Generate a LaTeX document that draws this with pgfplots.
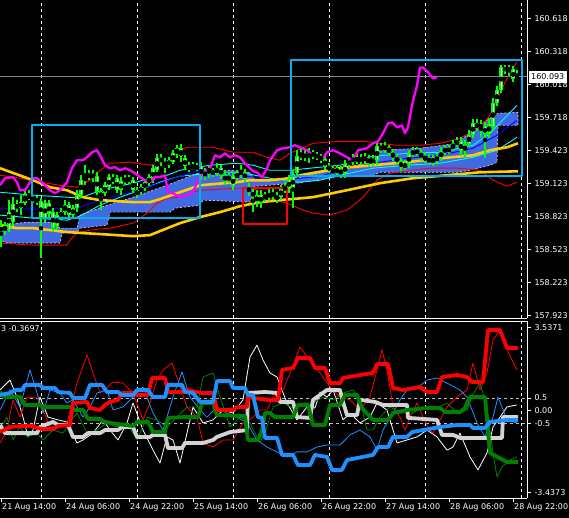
\documentclass[border=0pt]{standalone}
\usepackage{pgfplots}
\pgfplotsset{compat=1.18}
\usepackage{pgfplotstable}
\usepackage{fontspec}
\setmainfont{DejaVu Sans}
\definecolor{mtlime}{RGB}{0,255,0}
\definecolor{mtpale}{RGB}{200,255,200}
\definecolor{mtgold}{RGB}{255,204,0}
\definecolor{mtred}{RGB}{255,0,0}
\definecolor{mtcyan}{RGB}{0,255,255}
\definecolor{mtblue}{RGB}{0,0,255}
\definecolor{mtroyal}{RGB}{65,105,225}
\definecolor{mtmag}{RGB}{255,0,255}
\definecolor{mtsky}{RGB}{0,176,240}
\definecolor{mtslate}{RGB}{119,136,153}
\definecolor{mtdodger}{RGB}{30,144,255}
\definecolor{mtgreen}{RGB}{0,128,0}
\definecolor{mtlgray}{RGB}{211,211,211}
\definecolor{mtedge}{RGB}{225,190,225}
\definecolor{mtlevel}{RGB}{190,190,190}

\pgfplotstableread{
i o h l c
0 158.682 158.790 158.546 158.736
1 158.736 158.772 158.654 158.700
2 158.700 158.972 158.682 158.863
3 158.772 158.999 158.736 158.935
4 158.935 158.972 158.863 158.899
5 158.899 159.017 158.836 158.954
6 158.944 159.062 158.926 159.017
7 159.008 159.062 158.972 158.999
8 158.990 159.017 158.944 158.981
9 158.981 159.008 158.926 158.963
10 158.963 158.990 158.446 158.809
11 158.809 158.972 158.772 158.944
12 158.944 158.972 158.809 158.845
13 158.863 158.899 158.682 158.718
14 158.736 158.863 158.700 158.836
15 158.818 158.899 158.790 158.863
16 158.863 158.972 158.836 158.926
17 158.926 158.954 158.809 158.836
18 158.836 158.926 158.809 158.899
19 158.899 159.062 158.863 159.017
20 159.017 159.198 158.990 159.153
21 159.153 159.289 159.107 159.180
22 159.180 159.243 159.153 159.207
23 159.207 159.243 159.135 159.180
24 159.189 159.225 159.017 159.044
25 159.044 159.080 158.881 158.999
26 159.035 159.135 159.008 159.107
27 159.089 159.207 159.062 159.180
28 159.171 159.207 159.117 159.153
29 159.171 159.198 159.035 159.062
30 159.062 159.180 159.017 159.144
31 159.144 159.198 159.107 159.171
32 159.171 159.198 159.117 159.153
33 159.153 159.180 159.035 159.062
34 159.062 159.089 158.990 159.017
35 159.044 159.117 159.017 159.089
36 159.080 159.153 159.053 159.135
37 159.126 159.207 159.098 159.180
38 159.153 159.289 159.126 159.262
39 159.243 159.388 159.225 159.352
40 159.352 159.388 159.280 159.325
41 159.316 159.352 159.216 159.289
42 159.289 159.361 159.262 159.334
43 159.316 159.425 159.298 159.397
44 159.397 159.470 159.352 159.443
45 159.443 159.479 159.316 159.370
46 159.352 159.379 159.243 159.280
47 159.280 159.316 159.225 159.253
48 159.262 159.316 159.243 159.280
49 159.280 159.307 159.234 159.262
50 159.280 159.316 159.153 159.189
51 159.189 159.262 159.153 159.234
52 159.234 159.289 159.171 159.253
53 159.243 159.262 159.180 159.207
54 159.216 159.307 159.189 159.262
55 159.262 159.289 159.162 159.189
56 159.198 159.243 159.107 159.144
57 159.153 159.225 159.126 159.189
58 159.189 159.225 159.062 159.098
59 159.180 159.243 159.153 159.207
60 159.207 159.289 159.171 159.234
61 159.225 159.253 159.135 159.162
62 159.089 159.126 159.008 159.044
63 159.035 159.071 158.863 159.017
64 159.017 159.062 158.908 158.954
65 158.944 159.062 158.899 159.017
66 159.008 159.044 158.954 158.999
67 158.999 159.071 158.963 159.035
68 159.035 159.071 158.972 159.008
69 159.008 159.044 158.944 158.981
70 158.999 159.107 158.972 159.071
71 159.062 159.135 159.035 159.098
72 159.071 159.198 159.035 159.162
73 159.062 159.243 158.899 159.207
74 159.216 159.425 159.189 159.370
75 159.370 159.443 159.334 159.388
76 159.388 159.425 159.325 159.361
77 159.361 159.443 159.307 159.397
78 159.397 159.425 159.343 159.379
79 159.379 159.407 159.334 159.370
80 159.370 159.397 159.307 159.343
81 159.343 159.370 159.243 159.280
82 159.280 159.307 159.216 159.253
83 159.253 159.280 159.189 159.234
84 159.234 159.289 159.189 159.253
85 159.253 159.280 159.171 159.207
86 159.207 159.334 159.171 159.298
87 159.298 159.361 159.262 159.325
88 159.325 159.388 159.289 159.352
89 159.352 159.388 159.298 159.334
90 159.334 159.388 159.289 159.352
91 159.352 159.397 159.298 159.343
92 159.343 159.379 159.271 159.316
93 159.316 159.379 159.280 159.343
94 159.334 159.497 159.289 159.461
95 159.461 159.488 159.397 159.434
96 159.434 159.497 159.397 159.461
97 159.452 159.470 159.370 159.407
98 159.407 159.434 159.325 159.361
99 159.361 159.388 159.289 159.325
100 159.325 159.352 159.234 159.271
101 159.271 159.334 159.243 159.298
102 159.298 159.425 159.262 159.388
103 159.388 159.452 159.361 159.416
104 159.416 159.452 159.370 159.407
105 159.407 159.434 159.325 159.361
106 159.361 159.407 159.307 159.343
107 159.343 159.388 159.289 159.325
108 159.325 159.379 159.280 159.343
109 159.343 159.397 159.298 159.352
110 159.352 159.452 159.325 159.416
111 159.416 159.470 159.379 159.434
112 159.434 159.470 159.388 159.425
113 159.434 159.515 159.416 159.479
114 159.479 159.543 159.452 159.506
115 159.506 159.543 159.370 159.416
116 159.416 159.515 159.361 159.479
117 159.479 159.606 159.452 159.561
118 159.561 159.706 159.533 159.669
119 159.669 159.706 159.597 159.633
120 159.633 159.697 159.543 159.651
121 159.642 159.687 159.352 159.570
122 159.570 159.715 159.533 159.660
123 159.633 159.896 159.606 159.851
124 159.851 160.005 159.823 159.968
125 159.968 160.195 159.941 160.177
126 160.177 160.204 160.123 160.150
127 160.150 160.195 160.104 160.168
128 160.159 160.186 160.041 160.068
129 160.068 160.150 160.059 160.093
}\candles

\pgfplotsset{mt/.style={
  scale only axis, width=527pt, xmin=-0.25, xmax=131.5,
  axis line style={white, line width=0.8pt},
  tick style={white, line width=0.8pt},
  major tick length=4pt, tick align=outside,
  ticklabel style={text=white, font=\fontsize{8}{9}\selectfont},
  no markers,
  every axis plot/.append style={line join=round, mark=none},
}}

\begin{document}
\begin{tikzpicture}[font=\fontsize{8}{9}\selectfont]
\useasboundingbox (0,0) rectangle (569pt,-518pt);
\fill[black] (0,0) rectangle (569pt,-518pt);

% ---------------- price panel ----------------
\begin{axis}[mt, at={(0pt,0pt)}, anchor=north west, height=318pt,
  ymin=157.902, ymax=160.789,
  axis x line*=bottom, axis y line*=right,
  xtick={10,34,58,82,106,130}, xticklabels={}, xmajorgrids,
  xtick style={draw=none},
  major x grid style={white, dash pattern=on 3pt off 3pt, line width=0.8pt},
  ytick={157.923,158.223,158.523,158.823,159.123,159.423,159.723,160.023,160.323,160.623},
  yticklabels={157.923,158.223,158.523,158.823,159.123,159.423,159.718,160.018,160.318,160.618},
  yticklabel style={anchor=west},
]
% current price line
\addplot[mtslate, line width=0.8pt] coordinates {(-0.25,160.093) (131.5,160.093)};
% cloud
\addplot[fill=mtroyal, draw=mtedge, dash pattern=on 2pt off 2pt, line width=0.7pt] coordinates {
(-0.25,158.745) (6.5,158.772) (13,158.772) (14.75,158.718) (19,158.718) (19.75,158.836) (26.5,158.926) (33,158.999) (41.5,159.107) (49.75,159.225) (57.25,159.243) (62.25,159.225) (63.5,159.153) (74,159.171) (84.75,159.262) (93,159.316) (94.75,159.425) (104.75,159.443) (114,159.488) (118.5,159.624) (122.25,159.715) (124.25,159.760) (129.25,159.769)
(129.25,159.651) (124.25,159.651) (124,159.316) (122.25,159.289) (117.25,159.243) (114,159.225) (94.75,159.225) (93,159.198) (84.75,159.189) (74,159.126) (63.5,159.098) (62.25,158.954) (50.5,158.972) (49.75,158.926) (43.5,158.899) (42.25,158.863) (27.25,158.863) (26.5,158.745) (19.75,158.718) (19,158.682) (15.25,158.673) (14.75,158.582) (1.5,158.582) (-0.25,158.609)
} -- cycle;
% red bands
\addplot[mtred, line width=0.9pt] coordinates {
(-0.25,159.198) (4.75,159.171) (9.75,159.135) (14.75,159.107) (19,159.089) (22.25,159.153) (24.75,159.243) (27.25,159.307) (32.25,159.316) (37.25,159.289) (41.5,159.316) (44.75,159.425) (46.5,159.452) (53,159.452) (58,159.407) (63,159.407) (66.5,159.361) (69.75,159.334) (72.25,159.397) (78,159.488) (84.75,159.506) (90.5,159.506) (99,159.470) (104.75,159.470) (109.75,159.488) (114.75,159.533) (119.75,159.633) (122.25,159.742) (124,159.878) (126,160.041) (129,160.231)};
\addplot[mtred, line width=0.9pt] coordinates {
(-0.25,158.582) (8,158.564) (16.5,158.564) (17.25,158.609) (19,158.673) (22.25,158.700) (27.25,158.718) (33,158.763) (36.5,158.854) (39,158.944) (41.5,158.990) (44.75,158.999) (48,159.044) (49.75,159.062) (59,159.080) (63,159.080) (67.25,158.990) (71.5,158.944) (75.5,158.881) (78,158.854) (82.25,158.836) (86.5,158.881) (90.5,158.999) (94,159.153) (97.25,159.216) (103,159.243) (107.25,159.262) (114,159.262) (119.75,159.243) (123,159.153) (126.5,159.098) (129,159.135)};
% cyan
\addplot[mtcyan, line width=0.9pt] coordinates {
(-0.25,159.044) (8,159.017) (16.5,158.999) (19.75,158.990) (23,159.035) (27.25,159.080) (33,159.126) (37.25,159.171) (41.5,159.198) (44.75,159.243) (52.25,159.289) (59,159.307) (63,159.289) (67.25,159.243) (72.25,159.243) (77.25,159.262) (84.75,159.289) (93,159.370) (101.5,159.397) (109.75,159.407) (118,159.470) (122.25,159.579) (129,159.833)};
\addplot[mtcyan, line width=0.9pt] coordinates {
(-0.25,158.836) (8,158.809) (16.5,158.790) (19.75,158.827) (24.75,158.926) (29.75,158.999) (34.75,159.062) (39.75,159.135) (44.75,159.189) (49.75,159.207) (59.75,159.225) (64.75,159.189) (69.75,159.153) (74.75,159.135) (79.75,159.153) (84.75,159.198) (93,159.262) (101.5,159.289) (109.75,159.307) (118,159.361) (124,159.425) (129,159.543)};
% blue
\addplot[mtblue, line width=0.9pt] coordinates {
(-0.25,158.899) (9.75,158.890) (19.75,158.908) (24.75,158.972) (32.25,159.044) (39.75,159.126) (44.75,159.189) (49.75,159.243) (54.75,159.225) (59.75,159.198) (64.75,159.171) (69.75,159.153) (74.75,159.171) (79.75,159.189) (84.75,159.243) (93,159.307) (101.5,159.352) (109.75,159.379) (118,159.443) (124,159.561) (129,159.697)};
% gold
\addplot[mtgold, line width=2.6pt] coordinates {
(-0.25,159.262) (8,159.153) (12.25,159.089) (16.5,159.062) (20.5,158.999) (24.75,158.972) (29,158.963) (33,158.954) (37.25,158.954) (39.75,158.981) (44.75,159.044) (49.75,159.107) (59,159.135) (62.25,159.153) (67.25,159.153) (72.25,159.171) (74.75,159.198) (84.75,159.262) (93,159.289) (101.5,159.316) (109.75,159.352) (118,159.379) (122.25,159.425) (126.5,159.452) (129.25,159.488)};
\addplot[mtgold, line width=2.6pt] coordinates {
(-0.25,158.745) (4,158.718) (8,158.718) (12.25,158.700) (16.5,158.682) (20.5,158.673) (24.75,158.664) (29,158.654) (33,158.645) (37.25,158.654) (39.75,158.691) (44.75,158.763) (49.75,158.818) (54.75,158.863) (59.75,158.917) (64.75,158.954) (69.75,158.972) (78,158.999) (86.5,159.062) (94.75,159.126) (103,159.171) (111.5,159.198) (119.75,159.225) (129.25,159.234)};
% candles: wicks, bodies, body centres
\addplot[only marks, mark=none, error bars/.cd, y dir=both, y explicit, error mark=none,
  error bar style={mtlime, line width=1.1pt}]
  table[x=i, y expr={(\thisrow{h}+\thisrow{l})/2}, y error expr={(\thisrow{h}-\thisrow{l})/2}] {\candles};
\addplot[only marks, mark=none, error bars/.cd, y dir=both, y explicit, error mark=none,
  error bar style={mtlime, line width=3.8pt}]
  table[x=i, y expr={(\thisrow{o}+\thisrow{c})/2}, y error expr={max(abs(\thisrow{c}-\thisrow{o})/2,0.0012)}] {\candles};
\addplot[only marks, mark=none, error bars/.cd, y dir=both, y explicit, error mark=none,
  error bar style={mtpale, line width=0.8pt}]
  table[x=i, y expr={(\thisrow{o}+\thisrow{c})/2}, y error expr={max(abs(\thisrow{c}-\thisrow{o})/2-0.009,0)}] {\candles};
% magenta
\addplot[mtmag, line width=2.3pt] coordinates {
(-0.25,159.107) (1,159.171) (3,159.180) (4,159.135) (4.75,159.062) (6,159.062) (7.25,159.135) (8,159.171) (9,159.171) (10.5,159.126) (12.25,159.062) (13.5,159.035) (14.75,159.062) (16.5,159.135) (17.75,159.262) (19,159.334) (20.5,159.334) (21.5,159.361) (22.75,159.407) (24,159.425) (24.75,159.379) (26,159.289) (27.25,159.262) (28.5,159.271) (29.75,159.243) (31,159.262) (32.25,159.243) (33.5,159.216) (34.75,159.180) (36,159.153) (37.25,159.135) (38.5,159.180) (39.75,159.180) (41,159.198) (41.75,159.044) (43,159.035) (44.75,158.999) (46.5,159.017) (48,159.044) (49.75,159.198) (52.25,159.262) (53.5,159.379) (54.75,159.361) (56,159.397) (57.25,159.361) (58.5,159.379) (59.75,159.361) (61,159.307) (62.75,159.243) (64.25,159.216) (65.25,159.180) (66.5,159.262) (67.25,159.334) (69,159.425) (70.5,159.443) (72.25,159.452) (73.5,159.470) (74.75,159.452) (76.5,159.425) (78,159.379) (80.5,159.352) (81.5,159.407) (83,159.425) (84.75,159.397) (86.5,159.361) (88,159.334) (89.25,159.425) (91.5,159.443) (93,159.488) (94.25,159.506) (95.5,159.579) (96.75,159.669) (97.75,159.678) (99,159.633) (100.25,159.651) (101,159.579) (101.75,159.633) (102.75,159.832) (104,160.014) (104.75,160.177) (105.5,160.177) (106.75,160.132) (108,160.077) (109,160.086)};
% rectangles
\addplot[mtsky, line width=2pt] coordinates {(7.75,159.651) (49.75,159.651) (49.75,158.809) (7.75,158.809)} -- cycle;
\addplot[mtsky, line width=2pt] coordinates {(72.5,160.240) (130.25,160.240) (130.25,159.189) (72.5,159.189)} -- cycle;
\addplot[mtred, line width=2pt] coordinates {(60.5,159.080) (71.5,159.080) (71.5,158.754) (60.5,158.754)} -- cycle;
\coordinate (pl) at (axis cs:131.5,160.093);
\end{axis}
\node[fill=white, text=black, anchor=west, inner xsep=2.5pt, inner ysep=1.5pt, minimum height=12pt] at ([xshift=1.5pt]pl) {160.093};

% ---------------- indicator panel ----------------
\begin{axis}[mt, at={(0pt,-321pt)}, anchor=north west, height=177pt,
  ymin=-3.4373, ymax=3.5371,
  axis x line*=box, axis y line*=right, xtick pos=left,
  xtick={0,16,32,48,64,80,96,112,128},
  xticklabels={21 Aug 14:00,24 Aug 06:00,24 Aug 22:00,25 Aug 14:00,26 Aug 06:00,26 Aug 22:00,27 Aug 14:00,28 Aug 06:00,28 Aug 22:00},
  xticklabel style={anchor=north west, inner sep=1pt, xshift=0pt},
  extra x ticks={10,34,58,82,106,130}, extra x tick labels={},
  extra x tick style={grid=major, major grid style={white, dash pattern=on 3pt off 3pt, line width=0.8pt}, major tick length=0pt},
  ytick={3.274,0.5,0,-0.5,-3.211},
  yticklabels={3.5371,0.5,0.00,-0.5,-3.4373},
  yticklabel style={anchor=west},
]
\addplot[mtlevel, dash pattern=on 3pt off 3pt, line width=0.8pt] coordinates {(-0.25,0.5) (131.5,0.5)};
\addplot[mtlevel, dash pattern=on 3pt off 3pt, line width=0.8pt] coordinates {(-0.25,-0.5) (131.5,-0.5)};
% thin lines
\addplot[white, line width=0.8pt] coordinates {
(-0.25,0.82) (2.25,1.21) (4,0.54) (5.5,-0.25) (6.75,-1.03) (8,-0.76) (9.75,0.54) (11.75,-0.25) (14.25,-0.36) (16.5,-0.44) (19,-1.27) (20.5,-1.15) (23,-0.88) (25.5,-0.36) (27.25,-0.76) (29.25,-1.15) (31.5,-0.48) (33,0.31) (35.5,-0.76) (38,-1.55) (39.75,-2.06) (41.5,-1.03) (43,-1.15) (44.75,-2.06) (46.5,-0.88) (48,0.15) (50.5,-0.48) (53,-0.36) (55.5,0.03) (58,-0.09) (60.5,0.43) (62.25,2.12) (64,2.59) (65.5,2.00) (67.25,1.49) (69,1.33) (71.5,0.31) (74,-0.36) (76.5,0.15) (78.5,0.11) (79.75,0.74) (81.5,0.54) (83,0.82) (85.5,-0.36) (87.25,-0.09) (89.75,-0.48) (92.25,-0.25) (94,0.31) (96.5,0.03) (99,-1.27) (101.5,-1.15) (104,-1.03) (106.5,-0.76) (109,-1.03) (111.5,-1.55) (113,-1.43) (114.75,-0.88) (117.25,-1.82) (119.25,-2.33) (121.5,-1.66) (123,-0.64) (124.75,-0.25) (126.5,0.15) (129,0.23)};
\addplot[mtred, line width=0.8pt] coordinates {
(-0.25,-1.27) (1.5,-0.76) (3,0.43) (4.75,-0.25) (6.5,0.54) (9,0.50) (10.5,0.03) (12.25,-0.64) (14.75,-0.64) (16.5,-0.48) (19,1.09) (21.5,2.20) (23,1.49) (24.75,0.70) (26.5,0.90) (28,1.13) (30.5,1.09) (33,0.70) (35.5,-0.36) (37.25,0.31) (39,1.21) (40.5,1.61) (42.75,1.88) (44.75,0.94) (46.5,0.15) (49,-0.25) (50.5,-1.27) (53,-1.43) (55.5,-1.15) (58,-1.15) (60.5,-0.48) (63,-0.25) (64.75,0.03) (66.5,0.03) (68,0.54) (70.5,0.82) (72.25,1.49) (74.75,2.51) (77.25,2.00) (79.75,1.49) (82.25,0.94) (84.75,0.54) (87.25,0.43) (89.75,0.03) (92.25,0.54) (94,1.61) (95.25,2.40) (96.5,1.61) (98,0.15) (99.75,-0.25) (101,-0.76) (102.25,-0.25) (104,0.31) (105.5,-0.25) (106.75,-0.64) (108,-0.88) (109.75,-0.36) (111.5,0.15) (114,0.54) (116.5,0.82) (118,1.88) (119.75,0.82) (121.5,1.49) (123,2.79) (124.75,3.18) (126.5,2.40) (129,1.61)};
\addplot[mtdodger, line width=0.8pt] coordinates {
(-0.25,0.03) (2.25,0.82) (4.75,0.15) (7.25,1.61) (9,0.70) (10.5,-0.09) (12.25,0.82) (14.75,0.70) (16.5,0.31) (18,0.43) (20.5,-0.25) (22.25,0.15) (24,0.70) (26.5,0.82) (28,0.03) (30.5,0.15) (33,0.54) (35.5,0.94) (38,-0.09) (40.5,-0.76) (43,0.54) (45.25,1.53) (47.25,0.54) (49.75,0.03) (51.5,-0.25) (54,0.15) (56.5,-0.09) (59,-0.25) (61.5,-0.48) (64,-1.15) (66.5,-1.43) (69,-1.62) (71.5,-1.82) (74,-1.62) (76.5,-1.62) (79,-1.43) (81.5,-1.35) (84.75,-1.35) (87.25,-0.95) (89.75,-0.76) (92.25,-1.03) (94,-1.55) (95.5,-0.76) (98,-0.09) (99.75,0.43) (101.5,0.82) (104,0.90) (106.5,1.21) (109,1.29) (111.5,1.09) (114.75,0.82) (116.5,0.54) (119,-0.48) (121,-1.03) (123,-0.25) (124.25,0.54) (126.5,-0.36) (129,-0.48)};
\addplot[mtgreen, line width=0.8pt] coordinates {
(-0.25,-0.76) (1.5,-0.25) (3,-1.15) (4.75,-0.64) (6.5,-1.03) (9,-0.88) (10.5,-1.15) (13,-0.76) (15.5,-0.88) (17.25,-0.44) (19,-0.09) (21.5,-0.88) (24,-0.76) (26.5,-0.48) (29,-0.64) (31.5,-0.48) (34,-1.15) (36.5,-0.25) (39,-0.36) (41.5,-0.64) (44,-0.25) (46.5,0.15) (49,0.15) (50.5,1.33) (53,1.49) (54.75,0.54) (57.25,-0.64) (59.75,-0.25) (62.25,-0.48) (64,-1.03) (64.75,-1.27) (66.5,-0.64) (68,0.15) (70.5,0.31) (73,0.11) (75.5,0.31) (78,0.31) (80.5,0.54) (83,0.43) (85.5,0.70) (88,0.82) (89.75,0.43) (91.5,-0.76) (93,-0.76) (94.75,-0.25) (97.25,0.15) (99.75,-0.09) (103,-0.09) (105.5,0.15) (108,0.03) (111.5,0.31) (114,-0.09) (116.5,0.03) (118,0.66) (119.75,1.09) (121.5,0.15) (123,-1.66) (124,-2.61) (125.25,-2.21) (127.25,-1.94) (129,-1.82)};
% thick lines
\addplot[mtlgray, line width=3.8pt] coordinates {
(-0.25,-0.56) (1,-0.88) (9,-0.88) (9.75,-0.64) (13,-0.44) (14.25,-0.56) (16.75,-0.56) (18,-1.03) (20.5,-1.03) (21.75,-0.88) (24.75,-0.88) (26,-0.76) (29.25,-0.76) (30.25,-0.64) (33,-0.64) (34,-1.03) (37.25,-1.03) (38,-0.95) (41,-0.95) (41.75,-1.47) (45.25,-1.47) (46,-1.27) (50.5,-1.27) (53,-1.15) (54,-1.03) (57.25,-0.84) (61.5,-0.76) (61.75,0.70) (66,0.74) (69,0.70) (69.75,0.35) (73,0.35) (74,-0.25) (77.25,-0.28) (78,0.43) (81.5,0.82) (84.75,0.82) (85.5,0.35) (86.5,-0.17) (89,-0.17) (89.75,0.43) (93.5,0.35) (95.5,0.23) (101.5,0.23) (101.75,-0.28) (109,-0.36) (110.25,-0.95) (113,-0.95) (114.75,-1.07) (125.25,-1.07) (125.5,-0.25) (129.25,-0.25)};
\addplot[mtgreen, line width=3.8pt] coordinates {
(-0.25,0.74) (1,0.54) (4.75,0.54) (6,0.23) (9.75,0.23) (10.5,0.15) (17.25,0.15) (18.5,0.03) (20.5,0.03) (21.75,-0.32) (24.75,-0.32) (26,-0.44) (29,-0.52) (33,-0.60) (34,-0.44) (36.75,-0.44) (38,-0.84) (41,-0.84) (41.75,-0.28) (45.5,-0.25) (49.25,-0.25) (50.25,0.31) (53,0.31) (54,-0.17) (61,-0.21) (61.75,-1.15) (64.25,-1.15) (65.25,-0.76) (66,-0.09) (67.25,-0.09) (68.5,-0.25) (73,-0.25) (74.25,0.23) (76.75,0.23) (78,-0.56) (81,-0.56) (82.25,0.23) (84.75,0.23) (86,0.62) (89,0.62) (90.25,0.11) (93,-0.36) (96.75,-0.36) (98,-0.09) (101.5,0.03) (106.5,0.11) (109.75,0.11) (111,-0.05) (114.75,-0.05) (116,0.11) (117.25,0.54) (121,0.54) (122.25,-1.66) (126.5,-2.02) (129.25,-2.02)};
\addplot[mtred, line width=3.8pt] coordinates {
(-0.25,-0.84) (2.25,-0.64) (5.5,-0.60) (8,-0.60) (9,-0.68) (10.5,-0.72) (13,-0.72) (14.25,-0.60) (17.25,-0.56) (18,0.31) (21.5,0.35) (22.25,0.11) (24.75,0.03) (26,0.23) (27.25,0.35) (29.25,0.43) (30.25,0.70) (33,0.70) (34,0.62) (36.75,0.62) (37.75,1.29) (41,1.29) (41.75,0.74) (45.5,0.74) (46.5,0.82) (50.25,0.70) (53,0.70) (54,0.03) (58,0.03) (59,0.15) (61.5,0.15) (61.75,0.54) (66.5,0.43) (69.25,0.43) (70.25,1.61) (73,1.69) (74.25,2.08) (77.25,2.08) (78.5,1.69) (81,1.69) (82.25,1.09) (84.75,1.09) (85.5,1.29) (89.75,1.41) (93,1.49) (94,1.84) (96.75,1.84) (98,0.90) (100.5,0.82) (104.75,0.94) (106.5,0.74) (109,0.74) (110.25,1.33) (114,1.41) (116.5,1.33) (117.75,1.13) (120.5,1.13) (121.75,3.18) (124.75,3.18) (126.5,2.47) (129.25,2.47)};
\addplot[mtdodger, line width=3.8pt] coordinates {
(-0.25,0.62) (2.25,0.70) (3.5,0.82) (5.25,0.82) (6,1.02) (9.75,1.02) (10.5,0.90) (13.5,0.90) (14.25,0.74) (17.25,0.70) (18,0.50) (21,0.50) (22.25,1.02) (25.25,1.02) (26.5,0.74) (29.25,0.74) (30.25,0.62) (33,0.62) (34,0.82) (36.75,0.82) (38,0.54) (41,0.54) (41.75,1.02) (45.25,1.02) (46,0.74) (48,0.70) (49.75,0.35) (53,0.35) (54,1.17) (57.25,1.17) (58,0.90) (61,0.90) (61.75,0.62) (63,0.62) (64.25,-0.25) (65.25,-0.28) (66,-1.07) (69,-1.07) (70.25,-1.74) (73,-1.74) (74.25,-2.14) (77.25,-2.14) (78.5,-1.74) (81.5,-1.82) (82.75,-2.33) (85.25,-2.33) (86.5,-1.94) (93,-1.74) (94.25,-1.43) (96.75,-1.43) (98,-1.03) (101.5,-1.03) (102.75,-0.84) (105.5,-0.76) (109.75,-0.64) (114,-0.56) (117.25,-0.56) (118,-0.68) (121,-0.68) (122.25,-0.44) (126.5,-0.36) (129.25,-0.36)};
\node[anchor=north west, text=white, inner sep=1pt] at (rel axis cs:0,1) [yshift=-3pt] {3 -0.3697};
\end{axis}
\end{tikzpicture}
\end{document}
